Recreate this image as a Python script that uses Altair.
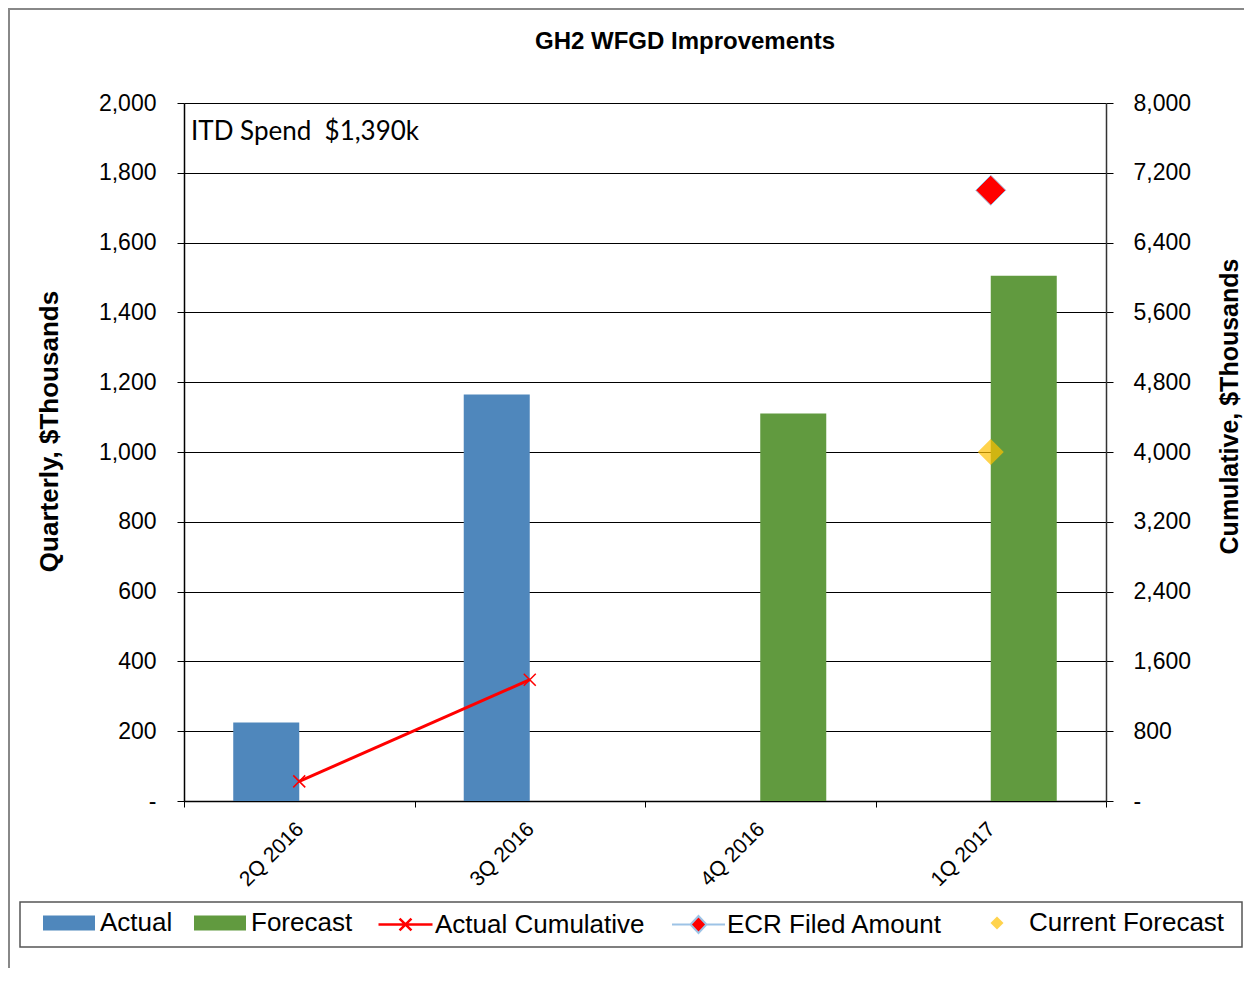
import altair as alt
import pandas as pd

# ---------------- data ----------------
quarters = ["2Q 2016", "3Q 2016", "4Q 2016", "1Q 2017"]
actual = [225, 1165, None, None]
forecast = [None, None, 1110, 1505]
actual_cumulative = [225, 1390, None, None]
ecr_filed = [None, None, None, 7000]
current_forecast = [None, None, None, 4000]
bar_series = ["Actual", "Forecast"]
left_ticks = [0, 200, 400, 600, 800, 1000, 1200, 1400, 1600, 1800, 2000]
right_ticks = [0, 800, 1600, 2400, 3200, 4000, 4800, 5600, 6400, 7200, 8000]
chart_title = "GH2 WFGD Improvements"
itd_text = "ITD Spend\u00a0 $1,390k"

BLUE = "#4F87BC"
GREEN = "#619A3F"
RED = "#FF0000"
GOLD = "#FFC000"
LIGHTBLUE = "#9DC3E6"
FONT = "Liberation Sans"

bar_rows = []
for q, a, f in zip(quarters, actual, forecast):
    if a is not None:
        bar_rows.append({"quarter": q, "series": "Actual", "value": a})
    if f is not None:
        bar_rows.append({"quarter": q, "series": "Forecast", "value": f})
bar_df = pd.DataFrame(bar_rows)

cum_df = pd.DataFrame([{"quarter": q, "value": v, "lname": "Actual Cumulative"}
                       for q, v in zip(quarters, actual_cumulative) if v is not None])
ecr_df = pd.DataFrame([{"quarter": q, "value": v, "ename": "ECR Filed Amount"}
                       for q, v in zip(quarters, ecr_filed) if v is not None])
cf_df = pd.DataFrame([{"quarter": q, "value": v, "cname": "Current Forecast"}
                      for q, v in zip(quarters, current_forecast) if v is not None])

zero_dash = "datum.value == 0 ? '-' : format(datum.value, ',')"

x_enc = alt.X(
    "quarter:N", sort=quarters,
    scale=alt.Scale(domain=quarters, paddingInner=0, paddingOuter=0),
    axis=alt.Axis(title=None, labelAngle=-45, labelAlign="right", labelBaseline="top",
                  labelFontSize=21, labelPadding=11, labelOffset=-7, tickBand="extent", tickSize=6,
                  tickColor="#000", domainColor="#000", domainWidth=1.5,
                  labelColor="#000", grid=False, labelFont=FONT),
)

left_y = alt.Y(
    "value:Q",
    scale=alt.Scale(domain=[0, 2000], nice=False, zero=True),
    axis=alt.Axis(values=left_ticks, labelExpr=zero_dash, title="Quarterly, $Thousands",
                  titleFontSize=26, titleFontWeight="bold", titleColor="#000",
                  titlePadding=36, titleY=328, labelFontSize=23, labelColor="#000", labelPadding=21,
                  tickSize=7, tickColor="#000", domainColor="#000", domainWidth=1.5,
                  grid=True, gridColor="#000", gridWidth=1, labelFont=FONT, titleFont=FONT),
)

right_y = alt.Y(
    "value:Q",
    scale=alt.Scale(domain=[0, 8000], nice=False, zero=True),
    axis=alt.Axis(orient="right", values=right_ticks, labelExpr=zero_dash,
                  title="Cumulative, $Thousands", titleAngle=270, titleBaseline="top",
                  titleFontSize=25, titleFontWeight="bold", titleColor="#000",
                  titlePadding=27, titleY=303, labelFontSize=23, labelColor="#000", labelPadding=20,
                  tickSize=7, tickColor="#000", domainColor="#333", domainWidth=1.5,
                  grid=False, labelFont=FONT, titleFont=FONT),
)

legend_common = dict(orient="none", direction="horizontal", title=None, padding=0,
                     labelFontSize=26, labelColor="#000", labelFont=FONT, labelLimit=400)

bars = alt.Chart(bar_df).mark_bar().encode(
    x=x_enc,
    xOffset=alt.XOffset("series:N", scale=alt.Scale(domain=bar_series, paddingInner=0,
                                                   paddingOuter=0.746)),
    y=left_y,
    color=alt.Color("series:N", scale=alt.Scale(domain=bar_series, range=[BLUE, GREEN]),
                    legend=alt.Legend(symbolType="M-1,-0.29H1V0.29H-1Z", symbolSize=2704,
                                      symbolStrokeWidth=0, labelOffset=5, columnPadding=21,
                                      legendX=-141, legendY=794, **legend_common)),
)

line = alt.Chart(cum_df).mark_line(strokeWidth=3).encode(
    x=x_enc, y=right_y,
    stroke=alt.Stroke("lname:N", scale=alt.Scale(domain=["Actual Cumulative"], range=[RED]),
                      legend=alt.Legend(symbolType="M-1,0H1M-0.22,-0.22L0.22,0.22M-0.22,0.22L0.22,-0.22",
                                        symbolSize=2916, symbolStrokeWidth=2.5, labelOffset=1,
                                        legendX=193, legendY=793, **legend_common)),
)

xmarks = alt.Chart(cum_df).mark_point(shape="M-1,-1L1,1M-1,1L1,-1", size=144, stroke=RED,
                                      strokeWidth=1.5, filled=False, opacity=1).encode(
    x=x_enc, y=right_y)

ecr = alt.Chart(ecr_df).mark_point(shape="diamond", filled=True, fill=RED, stroke=LIGHTBLUE,
                                   strokeWidth=1, size=900).encode(
    x=x_enc, y=right_y,
    opacity=alt.Opacity("ename:N", scale=alt.Scale(type="ordinal", domain=["ECR Filed Amount"], range=[1]),
                        legend=alt.Legend(symbolType="M-1,0H-0.3M0.3,0H1M-0.3,0L0,-0.32L0.3,0L0,0.32Z",
                                          symbolSize=2809, symbolStrokeWidth=2, labelOffset=1,
                                          legendX=487, legendY=794, **legend_common)),
)

cf = alt.Chart(cf_df).mark_point(shape="diamond", filled=True, fill=GOLD, stroke=GOLD,
                                 strokeWidth=0, size=676).encode(
    x=x_enc, y=right_y,
    shape=alt.Shape("cname:N", scale=alt.Scale(domain=["Current Forecast"], range=["diamond"]),
                    legend=alt.Legend(symbolSize=169, symbolFillColor=GOLD, symbolStrokeWidth=0,
                                      labelOffset=19, legendX=800, legendY=807, **legend_common)),
)

right_layer = alt.layer(line, xmarks, ecr, cf)

one = pd.DataFrame({"t": [chart_title]})
title_txt = alt.Chart(one).mark_text(fontSize=24, fontWeight="bold", font=FONT, color="#000",
                                     align="center", baseline="middle").encode(
    text="t:N", x=alt.value(501), y=alt.value(-61))

itd = alt.Chart(pd.DataFrame({"t": [itd_text]})).mark_text(
    fontSize=26, font="Lato", color="#000", align="left", baseline="middle").encode(
    text="t:N", x=alt.value(7), y=alt.value(29))

frame = alt.Chart(one).mark_rect(fill=None, stroke="#888", strokeWidth=2).encode(
    x=alt.value(-175), x2=alt.value(1120), y=alt.value(-94), y2=alt.value(920))

legend_box = alt.Chart(one).mark_rect(fill=None, stroke="#555", strokeWidth=1.5).encode(
    x=alt.value(-164), x2=alt.value(1058), y=alt.value(799), y2=alt.value(844))

chart = alt.layer(frame, legend_box, bars, right_layer, title_txt, itd).resolve_scale(
    y="independent"
).properties(
    width=922, height=698,
    autosize=alt.AutoSizeParams(type="none"),
    padding={"left": 176, "top": 95, "right": 138, "bottom": 167},
).configure_view(stroke="#888", strokeWidth=1.5).configure(font=FONT)

chart.save("out.html", embed_options={"renderer": "svg", "actions": False})
